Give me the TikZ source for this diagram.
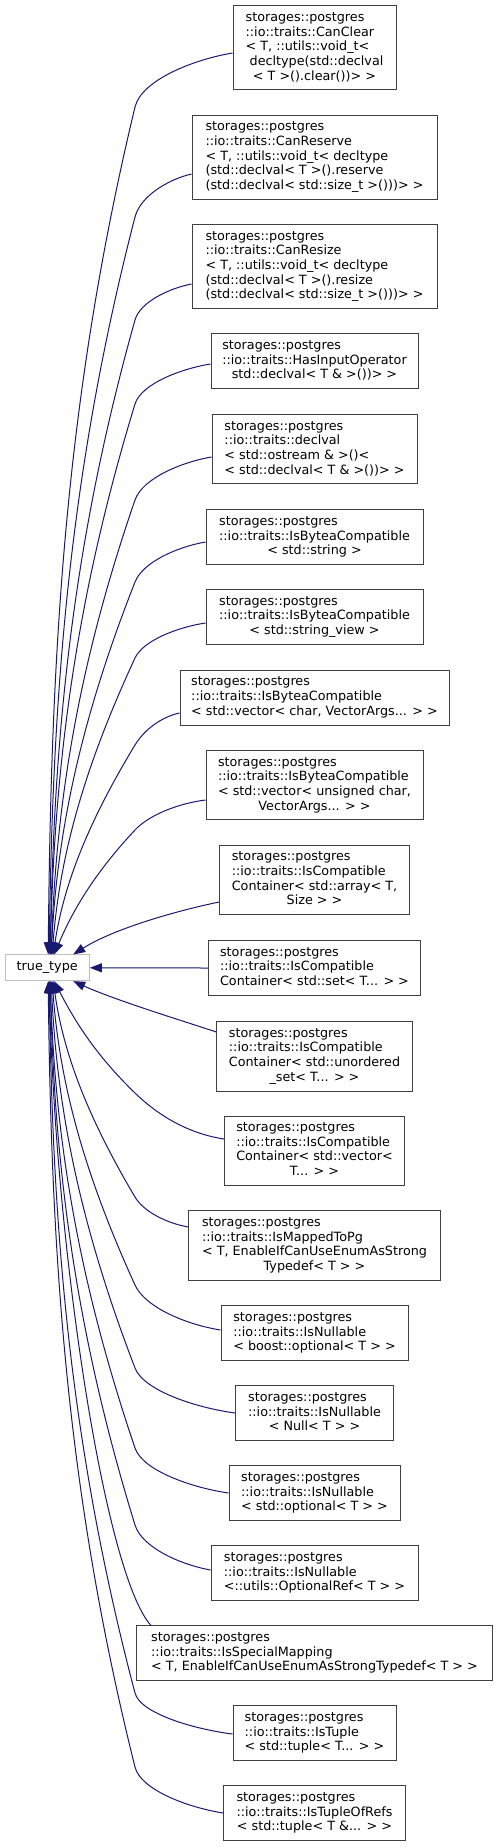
\documentclass[tikz,border=0pt]{standalone}
\usepackage{fontspec}
\setmainfont{DejaVu Sans}
\usetikzlibrary{arrows.meta}
\definecolor{edgeblue}{RGB}{25,25,112}
\definecolor{boxgray}{RGB}{64,64,64}
\definecolor{ttgray}{RGB}{191,191,191}
\newcommand\lb[2]{\begin{tabular}{@{}l@{}}#1\\\multicolumn{1}{@{}c@{}}{#2}\end{tabular}}
\newcommand\upedge[5]{%
 \pgfmathsetmacro\ePy{#3+#4}%
 \pgfmathsetmacro\eD{955-\ePy}%
 \pgfmathsetmacro\eS{1.2*85/\eD+0.12}%
 \pgfmathsetmacro\eAx{#2-0.4*(#2-135)}%
 \pgfmathsetmacro\eAy{#3+0.12*#4}%
 \pgfmathsetmacro\eBx{135+0.5*#4*\eS}%
 \pgfmathsetmacro\eBy{#3+0.5*#4}%
 \pgfmathsetmacro\eCx{135-\eS*0.35*\eD}%
 \pgfmathsetmacro\eCy{\ePy+0.35*\eD}%
 \pgfmathsetmacro\eF{min(1,80/\eD)}%
 \pgfmathsetmacro\eDx{47.2+#5+0.35*(135-47.2-#5)*\eF}%
 \pgfmathsetmacro\eDy{955-0.35*\eD}%
 \draw[edge] (#1.west |- 0,#3) .. controls (\eAx,\eAy) and (\eBx,\eBy) .. (135,\ePy) .. controls (\eCx,\eCy) and (\eDx,\eDy) .. ([xshift=#5pt]tt.north);%
}
\newcommand\downedge[5]{%
 \pgfmathsetmacro\ePy{#3-#4}%
 \pgfmathsetmacro\eD{\ePy-981}%
 \pgfmathsetmacro\eS{1.2*85/\eD+0.12}%
 \pgfmathsetmacro\eAx{#2-0.4*(#2-135)}%
 \pgfmathsetmacro\eAy{#3-0.12*#4}%
 \pgfmathsetmacro\eBx{135+0.5*#4*\eS}%
 \pgfmathsetmacro\eBy{#3-0.5*#4}%
 \pgfmathsetmacro\eCx{135-\eS*0.35*\eD}%
 \pgfmathsetmacro\eCy{\ePy-0.35*\eD}%
 \pgfmathsetmacro\eF{min(1,80/\eD)}%
 \pgfmathsetmacro\eDx{47.2+#5+0.35*(135-47.2-#5)*\eF}%
 \pgfmathsetmacro\eDy{981+0.35*\eD}%
 \draw[edge] (#1.west |- 0,#3) .. controls (\eAx,\eAy) and (\eBx,\eBy) .. (135,\ePy) .. controls (\eCx,\eCy) and (\eDx,\eDy) .. ([xshift=#5pt]tt.south);%
}
\begin{document}
\begin{tikzpicture}[x=1pt,y=-1pt,
  box/.style={draw=boxgray,line width=1pt,fill=white,inner sep=0pt,text=black,
    font=\fontsize{12.75pt}{14.67pt}\selectfont},
  edge/.style={draw=edgeblue,line width=1pt,-{Triangle[length=12pt,width=9pt]}}]
\fill[white] (0,0) rectangle (497,1847);
\useasboundingbox (0,0) rectangle (497,1847);

\node[box,draw=ttgray,minimum width=84.3pt,minimum height=25.7pt] (tt) at (47.2,967.8) {true\_type};

\node[box,minimum width=163pt,minimum height=84.3pt] (n1) at (314.5,47.8)
 {\lb{storages::postgres\\::io::traits::CanClear\\< T, ::utils::void\_t<\\\hspace*{0.318em}decltype(std::declval}{< T >().clear())> >}};
\node[box,minimum width=245pt,minimum height=84pt] (n2) at (314.5,157.3)
 {\lb{storages::postgres\\::io::traits::CanReserve\\< T, ::utils::void\_t< decltype\\(std::declval< T >().reserve}{(std::declval< std::size\_t >()))> >}};
\node[box,minimum width=245pt,minimum height=84pt] (n3) at (314.5,266.7)
 {\lb{storages::postgres\\::io::traits::CanResize\\< T, ::utils::void\_t< decltype\\(std::declval< T >().resize}{(std::declval< std::size\_t >()))> >}};
\node[box,minimum width=207pt,minimum height=55pt] (n4) at (314.5,361.2)
 {\lb{storages::postgres\\::io::traits::HasInputOperator}{std::declval< T \& >())> >}};
\node[box,minimum width=205pt,minimum height=69.3pt] (n5) at (314.5,449.3)
 {\lb{storages::postgres\\::io::traits::declval\\< std::ostream \& >()<}{< std::declval< T \& >())> >}};
\node[box,minimum width=217pt,minimum height=55pt] (n6) at (314.5,537.2)
 {\lb{storages::postgres\\::io::traits::IsByteaCompatible}{< std::string >}};
\node[box,minimum width=217pt,minimum height=55pt] (n7) at (314.5,617)
 {\lb{storages::postgres\\::io::traits::IsByteaCompatible}{< std::string\_view >}};
\node[box,minimum width=269pt,minimum height=55pt] (n8) at (314.5,697.5)
 {\lb{storages::postgres\\::io::traits::IsByteaCompatible}{< std::vector< char, VectorArgs... > >}};
\node[box,minimum width=217pt,minimum height=69.3pt] (n9) at (314.5,785.3)
 {\lb{storages::postgres\\::io::traits::IsByteaCompatible\\< std::vector< unsigned char,}{VectorArgs... > >}};
\node[box,minimum width=189.7pt,minimum height=69.3pt] (n10) at (314.5,880)
 {\lb{storages::postgres\\::io::traits::IsCompatible\\Container< std::array< T,}{Size > >}};
\node[box,minimum width=212.3pt,minimum height=54.7pt] (n11) at (314.5,968)
 {\lb{storages::postgres\\::io::traits::IsCompatible}{Container< std::set< T... > >}};
\node[box,minimum width=195.3pt,minimum height=69.7pt] (n12) at (314.5,1056.2)
 {\lb{storages::postgres\\::io::traits::IsCompatible\\Container< std::unordered}{\_set< T... > >}};
\node[box,minimum width=180.3pt,minimum height=69.3pt] (n13) at (314.5,1150.7)
 {\lb{storages::postgres\\::io::traits::IsCompatible\\Container< std::vector<}{T... > >}};
\node[box,minimum width=251.3pt,minimum height=69.7pt] (n14) at (314.5,1245.5)
 {\lb{storages::postgres\\::io::traits::IsMappedToPg\\< T, EnableIfCanUseEnumAsStrong}{Typedef< T > >}};
\node[box,minimum width=187pt,minimum height=54.7pt] (n15) at (314.5,1333.3)
 {\lb{storages::postgres\\::io::traits::IsNullable}{< boost::optional< T > >}};
\node[box,minimum width=158pt,minimum height=54.7pt] (n16) at (314.5,1413.3)
 {\lb{storages::postgres\\::io::traits::IsNullable}{< Null< T > >}};
\node[box,minimum width=171pt,minimum height=54.7pt] (n17) at (314.5,1493.3)
 {\lb{storages::postgres\\::io::traits::IsNullable}{< std::optional< T > >}};
\node[box,minimum width=207pt,minimum height=55pt] (n18) at (314.5,1573.2)
 {\lb{storages::postgres\\::io::traits::IsNullable}{<::utils::OptionalRef< T > >}};
\node[box,minimum width=355.3pt,minimum height=54.7pt] (n19) at (314.5,1653.3)
 {\lb{storages::postgres\\::io::traits::IsSpecialMapping}{< T, EnableIfCanUseEnumAsStrongTypedef< T > >}};
\node[box,minimum width=163pt,minimum height=55pt] (n20) at (314.5,1733.2)
 {\lb{storages::postgres\\::io::traits::IsTuple}{< std::tuple< T... > >}};
\node[box,minimum width=181.7pt,minimum height=55pt] (n21) at (314.5,1813.2)
 {\lb{storages::postgres\\::io::traits::IsTupleOfRefs}{< std::tuple< T \&... > >}};

\upedge{n1}{233}{53}{54}{1}
\upedge{n2}{192}{174}{43}{2}
\upedge{n3}{192}{284}{36}{3}
\upedge{n4}{211}{364}{40}{3}
\upedge{n5}{212}{457}{43}{4}
\upedge{n6}{206}{542}{40}{4}
\upedge{n7}{206}{623}{35}{5}
\upedge{n8}{180}{713}{32}{6}
\upedge{n9}{206}{800}{30}{7}
\draw[edge] (n10.west |- 0,902) .. controls (180,910) and (115,928) .. ([xshift=26pt]tt.north);
\draw[edge] (n11.west) -- (tt.east);
\draw[edge] (n12.west |- 0,1032) .. controls (180,1020) and (115,1000) .. ([xshift=26pt]tt.south);
\downedge{n13}{224.3}{1139}{46}{7}
\downedge{n14}{189}{1227}{30}{6}
\downedge{n15}{221}{1330}{45}{5}
\downedge{n16}{235.7}{1413}{45}{4}
\downedge{n17}{229}{1493}{45}{3}
\downedge{n18}{211}{1570}{45}{3}
\draw[edge] (n19.north -| 151,0) .. controls (105,1575) and (55,1250) .. ([xshift=2pt]tt.south);
\downedge{n20}{233}{1734}{41}{2}
\downedge{n21}{223.7}{1813}{46}{1}
\end{tikzpicture}
\end{document}
